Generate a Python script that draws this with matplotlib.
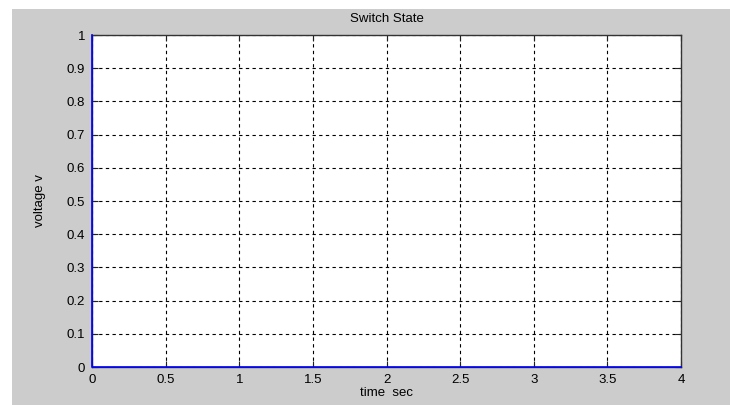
import matplotlib.pyplot as plt
from matplotlib.patches import Rectangle

# switch state signal
t = [0, 0, 4]
v = [1, 0, 0]
xticks = [0, 0.5, 1, 1.5, 2, 2.5, 3, 3.5, 4]
yticks = [0, 0.1, 0.2, 0.3, 0.4, 0.5, 0.6, 0.7, 0.8, 0.9, 1]

plt.rcParams['font.family'] = ['Liberation Sans', 'DejaVu Sans']
fs = 9.5

fig = plt.figure(figsize=(7.3, 4.05), dpi=100, facecolor='white')
# grey window background, white strip on top/left
fig.patches.append(Rectangle((12 / 730, 0), 1, 1 - 9 / 405, transform=fig.transFigure,
                             facecolor='#cccccc', edgecolor='none', zorder=-10))

ax = fig.add_axes([92 / 730, 1 - 367 / 405, (681 - 92) / 730, (367 - 35) / 405])
ax.set_facecolor('white')
ax.plot(t, v, color='#0000ff', linewidth=1.2, clip_on=False, zorder=5)

ax.set_xlim(0, 4)
ax.set_ylim(0, 1)
ax.set_xticks(xticks)
ax.set_xticklabels([f'{x:g}' for x in xticks])
ax.set_yticks(yticks)
ax.set_yticklabels([f'{y:g}' for y in yticks])
ax.tick_params(direction='in', top=True, right=True, length=4, width=0.8, color='#222222',
               labelsize=fs, pad=5)
ax.grid(True, color='black', linestyle=(0, (3, 3)), linewidth=0.8)
for s in ax.spines.values():
    s.set_color('#333333')
    s.set_linewidth(1.0)

ax.set_title('Switch State', fontsize=fs, pad=9)
ax.set_xlabel('time  sec', fontsize=fs, labelpad=1)
ax.set_ylabel('voltage v', fontsize=fs, labelpad=15)

plt.savefig('out.png', dpi=100, facecolor=fig.get_facecolor())
